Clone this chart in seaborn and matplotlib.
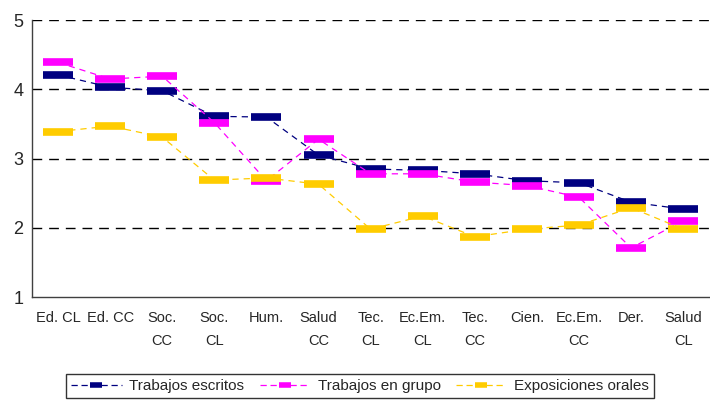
import numpy as np
import pandas as pd
import seaborn as sns
import matplotlib.pyplot as plt
from matplotlib.lines import Line2D

categorias = ["Ed. CL", "Ed. CC", "Soc.\nCC", "Soc.\nCL", "Hum.", "Salud\nCC", "Tec.\nCL",
              "Ec.Em.\nCL", "Tec.\nCC", "Cien.", "Ec.Em.\nCC", "Der.", "Salud\nCL"]
escritos = [4.21, 4.03, 3.98, 3.61, 3.60, 3.05, 2.85, 2.83, 2.78, 2.68, 2.65, 2.37, 2.27]
grupo = [4.39, 4.15, 4.19, 3.52, 2.68, 3.28, 2.78, 2.78, 2.66, 2.61, 2.44, 1.71, 2.10]
orales = [3.39, 3.47, 3.31, 2.69, 2.72, 2.63, 1.98, 2.17, 1.87, 1.98, 2.04, 2.29, 1.98]

series = ["Trabajos escritos", "Trabajos en grupo", "Exposiciones orales"]
colores = ["#000080", "#FF00FF", "#FFCC00"]

df = pd.DataFrame({"cat": categorias * 3,
                   "valor": escritos + grupo + orales,
                   "serie": np.repeat(series, len(categorias))})

sns.set_style("white")
plt.rcParams['font.family'] = ['Liberation Sans', 'DejaVu Sans']

fig = plt.figure(figsize=(7.1, 4.03), dpi=100)
ax = fig.add_axes([0.045, 0.263, 0.954, 0.687])

# grid first so marks sit on top
for y in [2, 3, 4, 5]:
    ax.axhline(y, color="black", lw=1, ls=(0, (7, 5)), zorder=0)

sns.lineplot(data=df, x="cat", y="valor", hue="serie", palette=dict(zip(series, colores)),
             style="serie", dashes={s: (5, 4) for s in series}, markers={s: "_" for s in series},
             sort=False, legend=False, ax=ax)

# seaborn paints marker edges white; give them the series colour
for ln in ax.get_lines():
    if ln.get_marker() == "_":
        ln.set_markeredgecolor(ln.get_color())
        ln.set_markersize(22)
        ln.set_markeredgewidth(5.5)
        ln.set_linewidth(0.9)

ax.set_ylim(1, 5)
ax.set_xlim(-0.5, len(categorias) - 0.5)
ax.set_yticks([1, 2, 3, 4, 5])
ax.set_xlabel("")
ax.set_ylabel("")
ax.set_xticks(range(len(categorias)))
ax.set_xticklabels(categorias, fontsize=10.5, linespacing=1.8, va="top")
ax.set_xticks(np.arange(-0.5, len(categorias), 1), minor=True)
ax.tick_params(axis="x", which="major", length=0, pad=10)
ax.tick_params(axis="x", which="minor", length=4, direction="out", color="#404040")
ax.tick_params(axis="y", labelsize=13, length=4, direction="out", color="#404040", pad=2)
for s in ["top", "right"]:
    ax.spines[s].set_visible(False)
for s in ["left", "bottom"]:
    ax.spines[s].set_color("#404040")
    ax.spines[s].set_linewidth(1)

handles = [Line2D([], [], color=c, ls=(0, (5, 3)), lw=0.9, marker="_", ms=9, mew=4) for c in colores]
leg = fig.legend(handles, series, loc="center", bbox_to_anchor=(0.507, 0.042), ncol=3,
                 frameon=True, fancybox=False, edgecolor="black", fontsize=11,
                 handlelength=3.3, handletextpad=0.5, columnspacing=1.0, borderpad=0.35)
leg.get_frame().set_linewidth(1)

fig.savefig("out.png", dpi=100)
